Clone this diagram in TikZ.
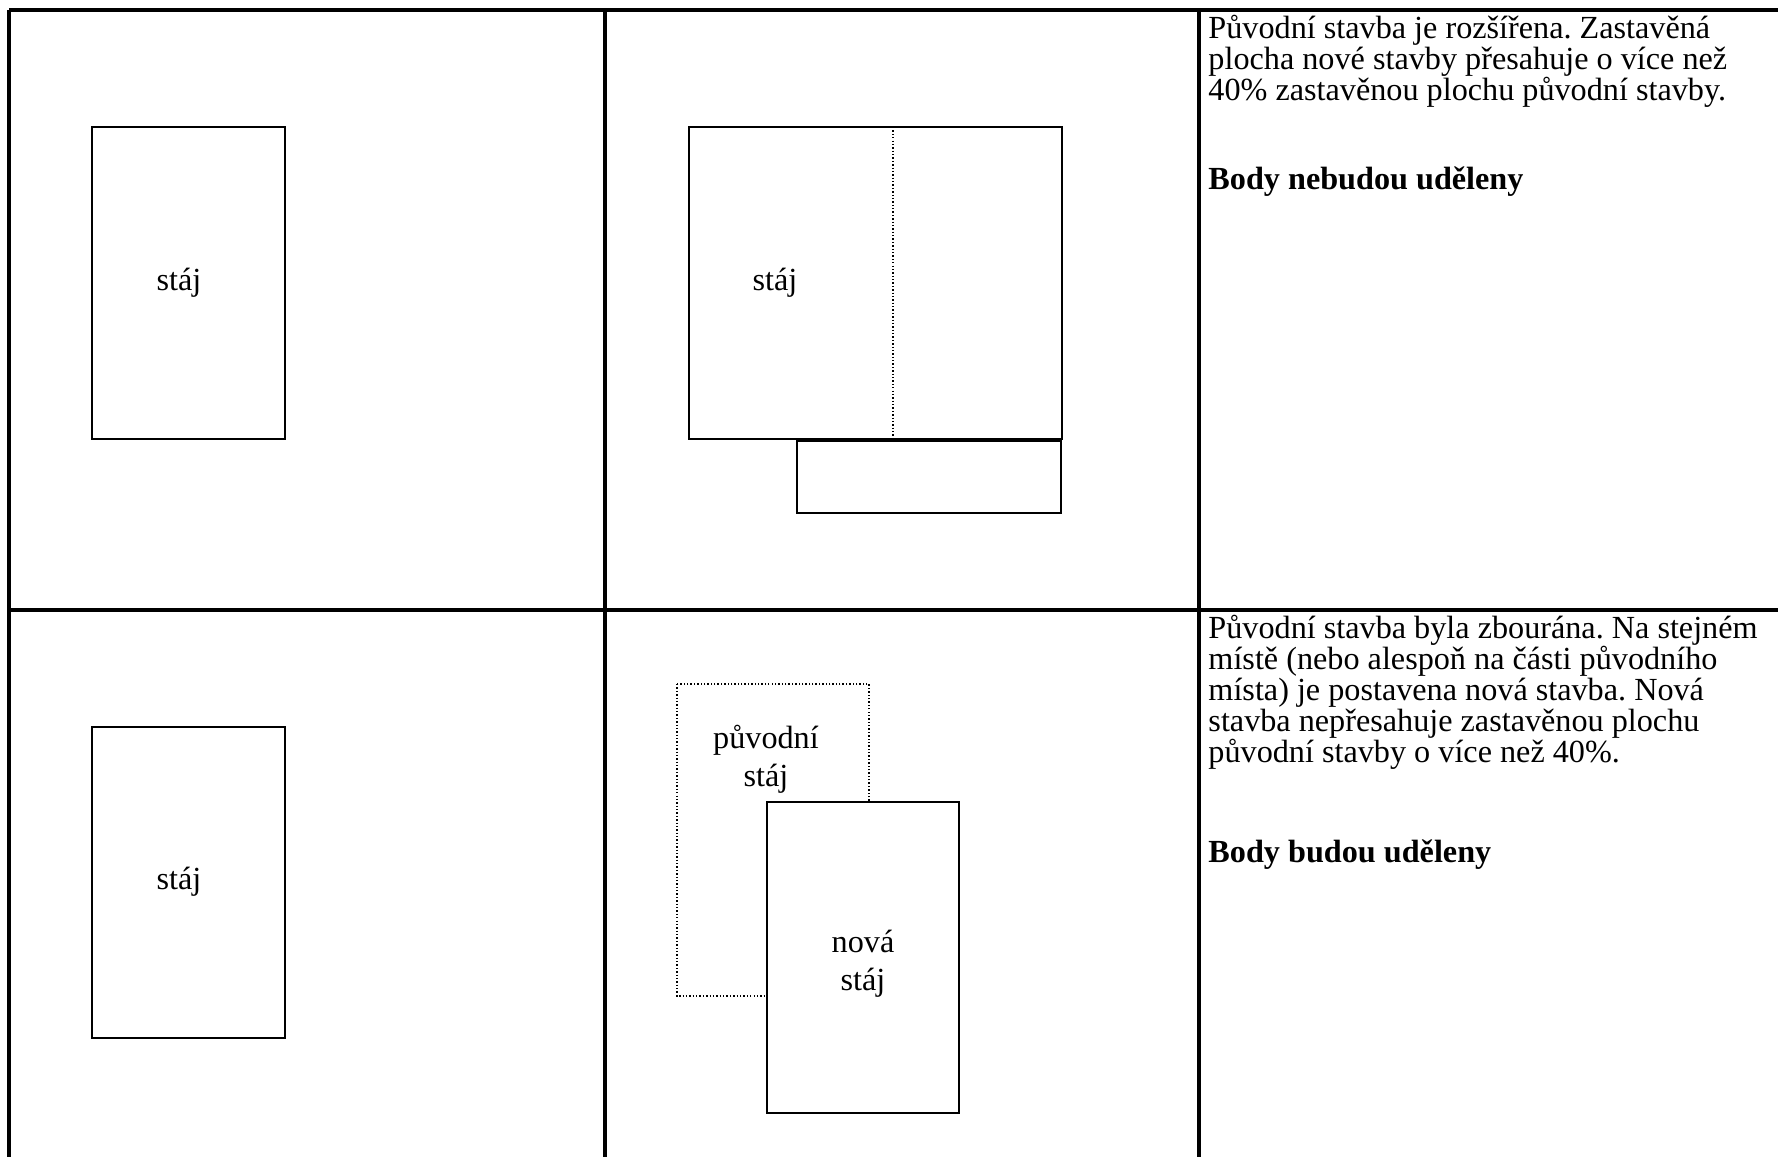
\documentclass[tikz,border=0pt]{standalone}
\usepackage{fontspec}
\setmainfont{Liberation Serif}
\frenchspacing
\begin{document}
\begin{tikzpicture}[x=0.444pt,y=-0.444pt,
  grid/.style={line width=1.35pt},
  house/.style={line width=0.85pt},
  oldhouse/.style={line width=0.7pt, dash pattern=on 0.6pt off 0.9pt},
  lbl/.style={inner sep=0pt, font=\fontsize{14.3}{17}\selectfont},
  para/.style={inner sep=0pt, anchor=base west, font=\fontsize{14.3}{17}\selectfont},
  boldpara/.style={para, font=\fontsize{14.3}{17}\selectfont\bfseries},
  lbl2/.style={inner sep=0pt, align=center, font=\fontsize{14.3}{16.8}\selectfont}]
\useasboundingbox (0,0) rectangle (1778,1157);
% table grid
\coordinate (tl) at (9,10);
\coordinate (tr) at (1778,10);
\coordinate (ml) at (9,610);
\coordinate (mr) at (1778,610);
\coordinate (bl) at (9,1157);
\coordinate (c1t) at (605,10);
\coordinate (c1b) at (605,1157);
\coordinate (c2t) at (1199,10);
\coordinate (c2b) at (1199,1157);
\draw[grid] (tl) -- (tr);
\draw[grid] (ml) -- (mr);
\draw[grid] (tl) -- (bl);
\draw[grid] (c1t) -- (c1b);
\draw[grid] (c2t) -- (c2b);
% row 1, column 1
\draw[house] (92,127) rectangle (285,439);
\node[lbl] (s1) at (179,283) {stáj};
% row 1, column 2
\draw[house] (797,441) rectangle (1061,513);
\draw[house] (689,127) rectangle (1062,439);
\coordinate (dt) at (893,127);
\coordinate (db) at (893,439);
\draw[oldhouse] (dt) -- (db);
\node[lbl] (s2) at (775,283) {stáj};
% row 1, column 3
\node[para] (p1) at (1208,38) {Původní stavba je rozšířena. Zastavěná};
\node[para] (p2) at (1208,69) {plocha nové stavby přesahuje o více než};
\node[para] (p3) at (1208,100) {40\% zastavěnou plochu původní stavby.};
\node[boldpara] (p4) at (1208,189) {Body nebudou uděleny};
% row 2, column 1
\draw[house] (92,727) rectangle (285,1038);
\node[lbl] (s3) at (179,882) {stáj};
% row 2, column 2
\draw[oldhouse] (677,684) rectangle (869,996);
\node[lbl2] (s4) at (766,759) {původní\\stáj};
\draw[house,fill=white] (767,802) rectangle (959,1113);
\node[lbl2] (s5) at (863,964) {nová\\stáj};
% row 2, column 3
\node[para] (q1) at (1208,638) {Původní stavba byla zbourána. Na stejném};
\node[para] (q2) at (1208,669) {místě (nebo alespoň na části původního};
\node[para] (q3) at (1208,700) {místa) je postavena nová stavba. Nová};
\node[para] (q4) at (1208,731) {stavba nepřesahuje zastavěnou plochu};
\node[para] (q5) at (1208,762) {původní stavby o více než 40\%.};
\node[boldpara] (q6) at (1208,862) {Body budou uděleny};
\end{tikzpicture}
\end{document}
